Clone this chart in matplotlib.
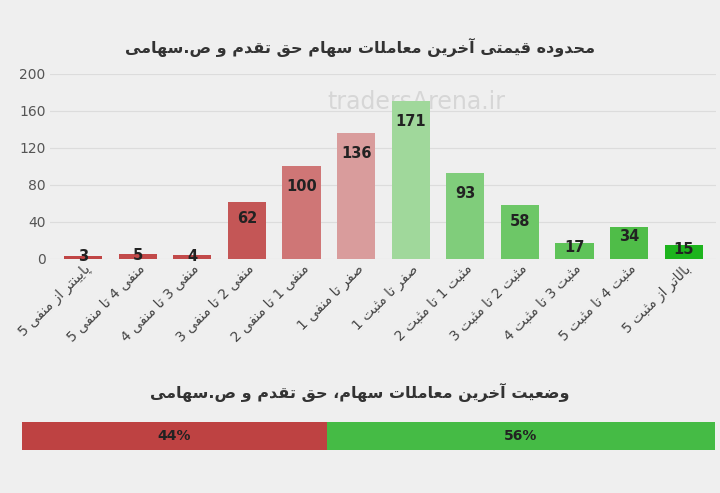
import matplotlib.pyplot as plt

# Persian text needs shaping + RTL order; matplotlib does neither, so do a tiny reshaper
FORMS = {
    'ا': (0xFE8D, 0xFE8E, None, None), 'آ': (0xFE81, 0xFE82, None, None),
    'ب': (0xFE8F, 0xFE90, 0xFE91, 0xFE92), 'پ': (0xFB56, 0xFB57, 0xFB58, 0xFB59),
    'ت': (0xFE95, 0xFE96, 0xFE97, 0xFE98), 'ث': (0xFE99, 0xFE9A, 0xFE9B, 0xFE9C),
    'ح': (0xFEA1, 0xFEA2, 0xFEA3, 0xFEA4), 'خ': (0xFEA5, 0xFEA6, 0xFEA7, 0xFEA8),
    'د': (0xFEA9, 0xFEAA, None, None), 'ر': (0xFEAD, 0xFEAE, None, None),
    'ز': (0xFEAF, 0xFEB0, None, None), 'س': (0xFEB1, 0xFEB2, 0xFEB3, 0xFEB4),
    'ص': (0xFEB9, 0xFEBA, 0xFEBB, 0xFEBC), 'ض': (0xFEBD, 0xFEBE, 0xFEBF, 0xFEC0),
    'ع': (0xFEC9, 0xFECA, 0xFECB, 0xFECC), 'ف': (0xFED1, 0xFED2, 0xFED3, 0xFED4),
    'ق': (0xFED5, 0xFED6, 0xFED7, 0xFED8), 'ل': (0xFEDD, 0xFEDE, 0xFEDF, 0xFEE0),
    'م': (0xFEE1, 0xFEE2, 0xFEE3, 0xFEE4), 'ن': (0xFEE5, 0xFEE6, 0xFEE7, 0xFEE8),
    'ه': (0xFEE9, 0xFEEA, 0xFEEB, 0xFEEC), 'و': (0xFEED, 0xFEEE, None, None),
    'ی': (0xFBFC, 0xFBFD, 0xFBFE, 0xFBFF),
}


def fa(s):
    out = []
    for i, c in enumerate(s):
        if c not in FORMS:
            out.append(c)
            continue
        prev = s[i - 1] if i > 0 else ''
        nxt = s[i + 1] if i + 1 < len(s) else ''
        join_prev = prev in FORMS and FORMS[prev][2] is not None
        join_next = nxt in FORMS and FORMS[c][2] is not None
        f = FORMS[c]
        if join_prev and join_next:
            code = f[3]
        elif join_prev:
            code = f[1]
        elif join_next:
            code = f[2]
        else:
            code = f[0]
        out.append(chr(code))
    return ''.join(out)[::-1]


title1 = 'محدوده قیمتی آخرین معاملات سهام حق تقدم و ص.سهامی'
title2 = 'وضعیت آخرین معاملات سهام، حق تقدم و ص.سهامی'
categories = ['پایینتر از منفی 5', 'منفی 4 تا منفی 5', 'منفی 3 تا منفی 4', 'منفی 2 تا منفی 3',
              'منفی 1 تا منفی 2', 'صفر تا منفی 1', 'صفر تا مثبت 1', 'مثبت 1 تا مثبت 2',
              'مثبت 2 تا مثبت 3', 'مثبت 3 تا مثبت 4', 'مثبت 4 تا مثبت 5', 'بالاتر از مثبت 5']
values = [3, 5, 4, 62, 100, 136, 171, 93, 58, 17, 34, 15]
colors = ['#c04545', '#c24a4a', '#c24a4a', '#c45656', '#cf7676', '#d99c9c',
          '#a0d89b', '#80cd7b', '#6dc767', '#5ec358', '#4fbd48', '#1db41d']
share_labels = ['44%', '56%']
shares = [44, 56]
share_colors = ['#be4242', '#45bb45']

bg = '#efefef'
plt.rcParams['font.family'] = ['DejaVu Sans']
fig = plt.figure(figsize=(7.2, 4.93), dpi=100, facecolor=bg)

ax = fig.add_axes([0.07, 0.475, 0.925, 0.375], facecolor=bg)
x = range(len(values))
ax.bar(x, values, width=0.7, color=colors, zorder=2)
for i, v in enumerate(values):
    ax.text(i, max(v - 22, v * 0.7), str(v), ha='center', va='center',
            fontsize=10.5, fontweight='bold', color='#222222', zorder=3)
ax.set_ylim(0, 200)
ax.set_xlim(-0.6, len(values) - 0.4)
ax.set_yticks(range(0, 201, 40))
ax.grid(axis='y', color='#dcdcdc', lw=0.8, zorder=0)
for s in ax.spines.values():
    s.set_visible(False)
ax.tick_params(axis='y', length=0, labelsize=10, colors='#555555')
ax.tick_params(axis='x', length=0, labelsize=10, colors='#444444', pad=2)
ax.set_xticks(list(x))
ax.set_xticklabels([fa(c) for c in categories], rotation=45, ha='right', rotation_mode='anchor')
ax.text(0.55, 0.85, 'tradersArena.ir', transform=ax.transAxes, ha='center', va='center',
        fontsize=17, color='#d6d6d6', zorder=1)

fig.text(0.5, 0.903, fa(title1), ha='center', va='center', fontsize=11.5, fontweight='bold', color='#333333')
fig.text(0.5, 0.203, fa(title2), ha='center', va='center', fontsize=11.5, fontweight='bold', color='#333333')

ax2 = fig.add_axes([0.03, 0.087, 0.963, 0.057])
left = 0
for v, c, lab in zip(shares, share_colors, share_labels):
    ax2.barh(0, v, left=left, height=1, color=c)
    ax2.text(left + v / 2, 0, lab, ha='center', va='center', fontsize=10, fontweight='bold', color='#222222')
    left += v
ax2.set_xlim(0, 100)
ax2.set_ylim(-0.5, 0.5)
ax2.axis('off')

fig.savefig('out.png', dpi=100, facecolor=bg)
